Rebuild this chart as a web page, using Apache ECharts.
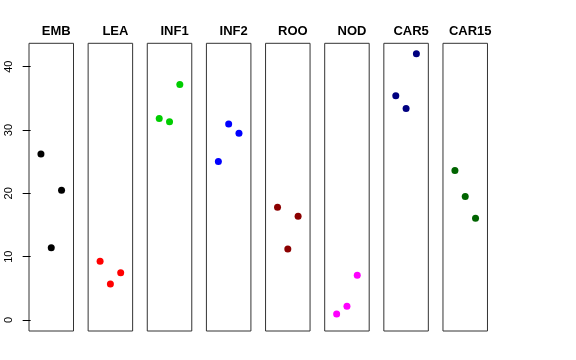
<!DOCTYPE html>
<html><head><meta charset="utf-8">
<script src="https://cdn.jsdelivr.net/npm/echarts@6/dist/echarts.min.js"></script>
<style>html,body{margin:0;padding:0;background:#fff}#c{width:576px;height:360px}</style>
</head><body><div id="c"></div>
<script>
const categories = ['EMB','LEA','INF1','INF2','ROO','NOD','CAR5','CAR15'];
const colors = ['#000000','#FF0000','#00CD00','#0000FF','#8B0000','#FF00FF','#000080','#006400'];
const xPositions = [1, 2, 3];
const EMB = [26.2, 11.4, 20.5];
const LEA = [9.26, 5.68, 7.47];
const INF1 = [31.84, 31.3, 37.2];
const INF2 = [25.05, 30.95, 29.5];
const ROO = [17.8, 11.2, 16.4];
const NOD = [0.95, 2.16, 7.05];
const CAR5 = [35.4, 33.4, 42.05];
const CAR15 = [23.6, 19.5, 16.05];
const yTicks = [0, 10, 20, 30, 40];
const seriesValues = [EMB, LEA, INF1, INF2, ROO, NOD, CAR5, CAR15];

(function () {
const chart = echarts.init(document.getElementById('c'), null, {renderer:'canvas'});
const grids = [], xAxes = [], yAxes = [], series = [], titles = [];
const left0 = 29, pitch = 59.14, pw = 44.5, ptop = 43.3, ph = 287.7;
categories.forEach((cat, i) => {
  const l = left0 + i * pitch;
  grids.push({left: l, top: ptop, width: pw, height: ph, show: true, borderColor: '#333', borderWidth: 1, backgroundColor: 'transparent'});
  xAxes.push({type: 'value', gridIndex: i, min: -0.16, max: 4.16, show: false});
  yAxes.push({
    type: 'value', gridIndex: i, min: -1.74, max: 43.7, show: i === 0,
    axisLine: {show: false},
    splitLine: {show: false},
    axisTick: {show: i === 0, length: 8, customValues: yTicks, lineStyle: {color: '#000', width: 1}},
    axisLabel: {show: i === 0, customValues: yTicks, rotate: 90, margin: 15, color: '#000', fontSize: 11, fontFamily: 'Liberation Sans, Arial, sans-serif'}
  });
  series.push({
    type: 'scatter', xAxisIndex: i, yAxisIndex: i, symbol: 'circle', symbolSize: 7,
    itemStyle: {color: colors[i], opacity: 1}, silent: true,
    data: xPositions.map((x, j) => [x, seriesValues[i][j]])
  });
  titles.push({text: cat, left: l + pw / 2, top: 20, textAlign: 'center',
    textStyle: {fontSize: 13, fontWeight: 'bold', color: '#000', fontFamily: 'Liberation Sans, Arial, sans-serif'}});
});
chart.setOption({animation: false, title: titles, grid: grids, xAxis: xAxes, yAxis: yAxes, series: series});
})();
</script></body></html>
